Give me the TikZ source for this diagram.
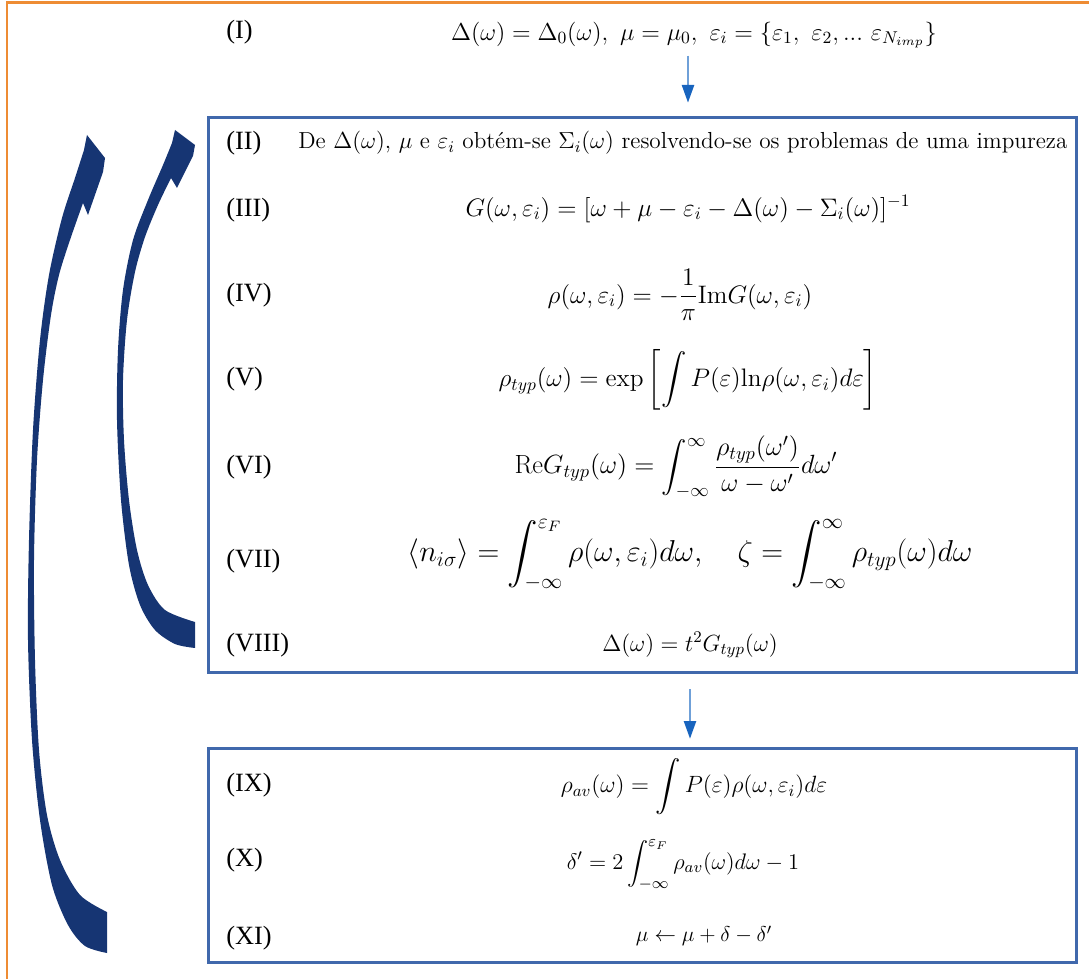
\RequirePackage{fix-cm}
\documentclass[tikz,border=0pt]{standalone}
\usepackage{amsmath}
\usepackage{fontspec}
\newfontfamily\romanfont{Liberation Serif}
\usepackage{tikz}
\usetikzlibrary{positioning,arrows.meta}
\definecolor{framebrd}{HTML}{EE8C34}
\definecolor{boxblue}{HTML}{4068AC}
\definecolor{steplight}{HTML}{6FA0D8}
\definecolor{stepdark}{HTML}{1864BE}
\definecolor{loopnavy}{HTML}{163573}

\begin{document}
\begin{tikzpicture}[x=0.02cm, y=-0.02cm,
  steplbl/.style={anchor=west, inner sep=0pt, font=\romanfont\fontsize{15}{17}\selectfont},
  stepeq/.style={inner sep=0pt, font=\fontsize{14.4}{17}\selectfont},
  stepbox/.style={draw=boxblue, line width=1.7pt, minimum width=17.38cm, inner sep=0pt},
  steparrow/.style={draw=steplight, line width=0.8pt,
    -{Triangle[length=10pt, width=7pt, color=stepdark, fill=stepdark]}}]
\useasboundingbox (0,0) rectangle (1089,979);
% outer frame, cut by the page on the right and at the bottom
\draw[framebrd, line width=1.7pt] (7,3) rectangle (1110,1000);

% the two blocks
\node[stepbox, minimum height=11.12cm] (loop) at (642.5,395) {};
\node[stepbox, minimum height=4.30cm] (final) at (642.5,855.5) {};

% step numbers
\foreach \r/\y in {I/32, II/143, III/210, IV/295, V/379, VI/467, VII/561, VIII/645,
                   IX/785, X/860, XI/938}
  \node[steplbl] (l\r) at (226,\y) {(\r)};

% equations
\node[stepeq, font=\fontsize{13.9}{16}\selectfont] (init) at (694,35)
  {$\Delta(\omega)=\Delta_0(\omega),\ \mu=\mu_0,\ \varepsilon_i=\{\varepsilon_1,\ \varepsilon_2,...\ \varepsilon_{N_{imp}}\}$};
\node[stepeq, anchor=west, font=\fontsize{13.2}{16}\selectfont] (eqII) at (298,143)
  {De $\Delta(\omega)$, $\mu$ e $\varepsilon_i$ obtém-se $\Sigma_i(\omega)$ resolvendo-se os problemas de uma impureza};
\node[stepeq] (eqIII) at (688,209)
  {$G(\omega,\varepsilon_i)=[\omega+\mu-\varepsilon_i-\Delta(\omega)-\Sigma_i(\omega)]^{-1}$};
\node[stepeq] (eqIV) at (680,295)
  {$\displaystyle\rho(\omega,\varepsilon_i)=-\frac{1}{\pi}\mathrm{Im}G(\omega,\varepsilon_i)$};
\node[stepeq] (eqV) at (688,380)
  {$\displaystyle\rho_{typ}(\omega)=\exp\left[\int P(\varepsilon)\mathrm{ln}\rho(\omega,\varepsilon_i)d\varepsilon\right]$};
\node[stepeq, font=\fontsize{15}{18}\selectfont] (eqVI) at (676,467)
  {$\displaystyle\mathrm{Re}G_{typ}(\omega)=\int_{-\infty}^{\infty}\frac{\rho_{typ}(\omega')}{\omega-\omega'}d\omega'$};
\node[stepeq, font=\fontsize{17.2}{20}\selectfont] (eqVII) at (690,555)
  {$\displaystyle\langle n_{i\sigma}\rangle=\int_{-\infty}^{\varepsilon_F}\rho(\omega,\varepsilon_i)d\omega,\quad\zeta=\int_{-\infty}^{\infty}\rho_{typ}(\omega)d\omega$};
\node[stepeq, font=\fontsize{13.3}{16}\selectfont] (eqVIII) at (690,645)
  {$\Delta(\omega)=t^2G_{typ}(\omega)$};
\node[stepeq, font=\fontsize{13.4}{16}\selectfont] (eqIX) at (694,787)
  {$\displaystyle\rho_{av}(\omega)=\int P(\varepsilon)\rho(\omega,\varepsilon_i)d\varepsilon$};
\node[stepeq, font=\fontsize{12.8}{16}\selectfont] (eqX) at (683,865)
  {$\displaystyle\delta'=2\int_{-\infty}^{\varepsilon_F}\rho_{av}(\omega)d\omega-1$};
\node[stepeq, font=\fontsize{12.2}{15}\selectfont] (eqXI) at (704,936)
  {$\mu\leftarrow\mu+\delta-\delta'$};

% flow arrows
\draw[steparrow, shorten <=4pt, shorten >=7.4pt] (init.south -| 688,0) -- (loop.north -| 688,0);
\draw[steparrow, shorten <=8.5pt, shorten >=4.5pt] (loop.south -| 690,0) -- (final.north -| 690,0);

% curved loop arrows
\fill[loopnavy] plot[smooth] coordinates {(195,648) (175,644) (155,630) (140,605) (129,565)
    (121,500) (117,420) (118,350) (123,290) (133,240) (148,200) (163,165) (172,143)}
  -- (175,130) -- (195,145) -- (193,156) -- (177,188) -- (171,178)
  -- plot[smooth] coordinates {(171,178) (158,205) (145,237) (135,272) (127,320) (123,380)
    (124,440) (129,500) (137,550) (148,585) (165,610) (195,622)}
  -- cycle;
\fill[loopnavy] plot[smooth] coordinates {(107,953) (85,946) (68,925) (52,885) (40,820)
    (32,740) (28,640) (29,540) (33,430) (40,340) (49,275) (62,218) (75,178) (84,150)}
  -- (87,135) -- (105,158) -- (103,172) -- (88,215) -- (83,203)
  -- plot[smooth] coordinates {(83,203) (70,240) (59,275) (51,315) (43,380) (37,460)
    (34,560) (35,660) (39,750) (47,815) (60,860) (80,895) (107,912)}
  -- cycle;
\end{tikzpicture}
\end{document}
